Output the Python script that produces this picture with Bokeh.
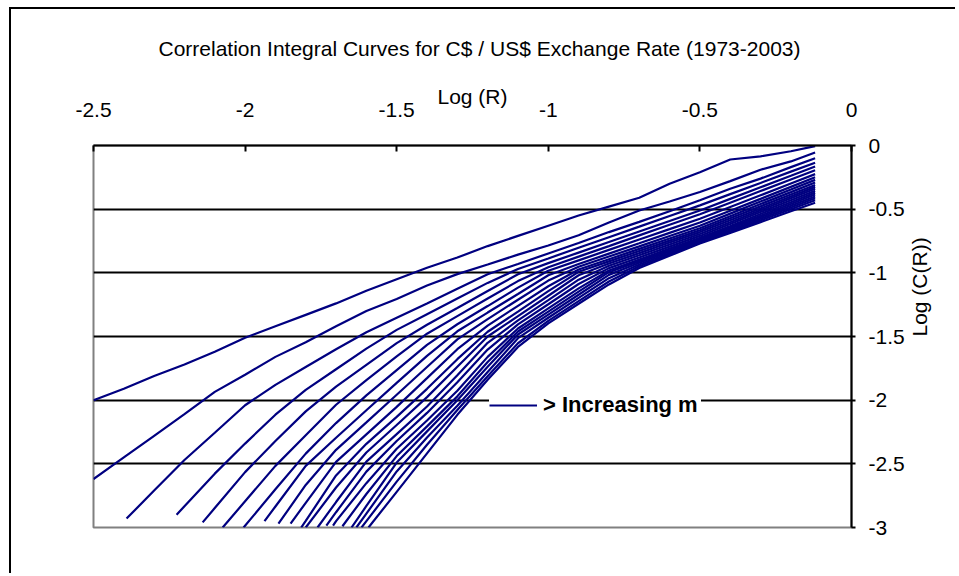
import math
from bokeh.plotting import figure
from bokeh.models import Range1d, FixedTicker, Legend, LegendItem
from bokeh.embed import file_html
from bokeh.resources import INLINE

# Log(R) sample grid shared by all curves
log_r = [-2.5, -2.4, -2.3, -2.2, -2.1, -2.0, -1.9, -1.8, -1.7, -1.6, -1.5, -1.4, -1.3,
         -1.2, -1.1, -1.0, -0.9, -0.8, -0.7, -0.6, -0.5, -0.4, -0.3, -0.2, -0.12]

# First point of each curve (embedding dimension m = 1..20)
start_log_r = [None, None, -2.391, -2.226, -2.14, -2.074, -2.005, -1.936, -1.89, -1.85,
               -1.815, -1.80, -1.761, -1.732, -1.71, -1.679, -1.649, -1.633, -1.616, -1.593]
start_log_c = [None, None, -2.93, -2.90, -2.96, -3.0, -3.0, -2.95, -2.97, -2.97,
               -3.0, -3.0, -3.0, -2.985, -2.985, -2.99, -3.0, -3.0, -3.0, -3.0]

N = None
# Log C(R) for each embedding dimension on the log_r grid
m01 = [-2.00, -1.91, -1.81, -1.72, -1.62, -1.51, -1.42, -1.33, -1.24, -1.14, -1.05, -0.96, -0.88,
       -0.79, -0.71, -0.63, -0.55, -0.48, -0.41, -0.30, -0.21, -0.11, -0.085, -0.045, -0.005]
m02 = [-2.62, -2.45, -2.28, -2.11, -1.935, -1.80, -1.66, -1.545, -1.42, -1.30, -1.205, -1.10, -1.01,
       -0.935, -0.857, -0.785, -0.705, -0.605, -0.51, -0.44, -0.365, -0.28, -0.19, -0.125, -0.055]
m03 = [N, N, -2.71, -2.47, -2.256, -2.04, -1.88, -1.74, -1.60, -1.466, -1.352, -1.24, -1.125,
       -1.011, -0.93, -0.848, -0.766, -0.68, -0.60, -0.516, -0.43, -0.34, -0.26, -0.17, -0.10]
m04 = [N, N, N, -2.833, -2.577, -2.341, -2.114, -1.919, -1.757, -1.595, -1.448, -1.325, -1.202,
       -1.079, -0.970, -0.887, -0.803, -0.720, -0.637, -0.553, -0.47, -0.382, -0.294, -0.205, -0.135]
m05 = [N, N, N, N, -2.847, -2.565, -2.321, -2.088, -1.894, -1.723, -1.552, -1.408, -1.276,
       -1.143, -1.011, -0.924, -0.841, -0.758, -0.675, -0.593, -0.51, -0.419, -0.328, -0.238, -0.165]
m06 = [N, N, N, N, N, -2.794, -2.516, -2.275, -2.036, -1.842, -1.656, -1.478, -1.340,
       -1.202, -1.065, -0.956, -0.873, -0.790, -0.706, -0.623, -0.54, -0.449, -0.358, -0.267, -0.195]
m07 = [N, N, N, N, N, N, -2.70, -2.42, -2.18, -1.962, -1.764, -1.566, -1.404,
       -1.261, -1.116, -0.984, -0.902, -0.820, -0.738, -0.657, -0.575, -0.483, -0.391, -0.299, -0.225]
m08 = [N, N, N, N, N, N, -2.835, -2.516, -2.295, -2.079, -1.864, -1.652, -1.459,
       -1.312, -1.166, -1.019, -0.930, -0.849, -0.768, -0.686, -0.605, -0.512, -0.419, -0.325, -0.25]
m09 = [N, N, N, N, N, N, N, -2.666, -2.39, -2.174, -1.957, -1.74, -1.523,
       -1.363, -1.211, -1.061, -0.952, -0.872, -0.792, -0.711, -0.63, -0.535, -0.44, -0.346, -0.27]
m10 = [N, N, N, N, N, N, N, -2.806, -2.485, -2.269, -2.053, -1.827, -1.60,
       -1.414, -1.259, -1.105, -0.974, -0.893, -0.812, -0.731, -0.65, -0.555, -0.46, -0.366, -0.29]
m11 = [N, N, N, N, N, N, N, -2.948, -2.591, -2.343, -2.131, -1.911, -1.678,
       -1.463, -1.304, -1.144, -0.992, -0.910, -0.828, -0.747, -0.665, -0.572, -0.478, -0.385, -0.31]
m12 = [N, N, N, N, N, N, N, N, -2.686, -2.411, -2.195, -1.976, -1.738,
       -1.50, -1.34, -1.18, -1.019, -0.927, -0.845, -0.762, -0.68, -0.587, -0.494, -0.40, -0.325]
m13 = [N, N, N, N, N, N, N, N, -2.80, -2.483, -2.267, -2.05, -1.804,
       -1.55, -1.373, -1.214, -1.054, -0.945, -0.862, -0.778, -0.695, -0.602, -0.508, -0.415, -0.34]
m14 = [N, N, N, N, N, N, N, N, -2.88, -2.561, -2.321, -2.10, -1.859,
       -1.603, -1.405, -1.247, -1.088, -0.963, -0.879, -0.794, -0.71, -0.617, -0.523, -0.43, -0.355]
m15 = [N, N, N, N, N, N, N, N, -2.95, -2.652, -2.382, -2.16, -1.926,
       -1.66, -1.437, -1.279, -1.122, -0.981, -0.896, -0.81, -0.725, -0.632, -0.538, -0.445, -0.37]
m16 = [N, N, N, N, N, N, N, N, N, -2.737, -2.439, -2.206, -1.97,
       -1.701, -1.461, -1.305, -1.148, -0.995, -0.908, -0.822, -0.735, -0.643, -0.551, -0.459, -0.385]
m17 = [N, N, N, N, N, N, N, N, N, -2.831, -2.49, -2.245, -2.0,
       -1.737, -1.484, -1.328, -1.172, -1.016, -0.921, -0.833, -0.745, -0.654, -0.563, -0.473, -0.40]
m18 = [N, N, N, N, N, N, N, N, N, -2.891, -2.56, -2.294, -2.043,
       -1.779, -1.513, -1.353, -1.197, -1.042, -0.934, -0.844, -0.755, -0.666, -0.576, -0.487, -0.415]
m19 = [N, N, N, N, N, N, N, N, N, -2.95, -2.64, -2.35, -2.077,
       -1.813, -1.553, -1.377, -1.222, -1.068, -0.948, -0.855, -0.762, -0.675, -0.588, -0.50, -0.43]
m20 = [N, N, N, N, N, N, N, N, N, N, -2.72, -2.418, -2.115,
       -1.84, -1.582, -1.397, -1.243, -1.091, -0.962, -0.866, -0.77, -0.686, -0.602, -0.517, -0.45]
curves = [m01, m02, m03, m04, m05, m06, m07, m08, m09, m10,
          m11, m12, m13, m14, m15, m16, m17, m18, m19, m20]

x_ticks = [-2.5, -2, -1.5, -1, -0.5, 0]
x_tick_labels = ["-2.5", "-2", "-1.5", "-1", "-0.5", "0"]
y_ticks = [-3, -2.5, -2, -1.5, -1, -0.5, 0]
y_tick_labels = ["-3", "-2.5", "-2", "-1.5", "-1", "-0.5", "0"]
grid_levels = [-2.5, -2, -1.5, -1, -0.5]

TITLE = "Correlation Integral Curves for C$ / US$ Exchange Rate (1973-2003)"
X_TITLE = "Log (R)"
Y_TITLE = "Log (C(R))"
LEGEND_TEXT = "> Increasing m"

FONT = "Liberation Sans"
NAVY = "#000080"
TEXT_SIZE = "21px"

# chart area offset 11px / 9px into the page; a 2px black shadow up and to the left
# draws the rule along its top and left edges without changing its size
p = figure(width=946, height=566, output_backend="svg", toolbar_location=None,
           x_range=Range1d(-2.5, 0), y_range=Range1d(-3, 0),
           x_axis_location="above", y_axis_location="right",
           min_border_left=82, min_border_right=106, min_border_top=136, min_border_bottom=48,
           styles={"margin-left": "11px", "margin-top": "9px",
                   "background-color": "white",
                   "box-shadow": "-2px -2px 0px 0px black"})
p.background_fill_color = "white"
p.border_fill_color = "white"
p.outline_line_color = "#808080"
p.outline_line_width = 2

p.title.text = TITLE
p.title.align = "left"
p.title.offset = 65
p.title.standoff = 43
p.title.text_font = FONT
p.title.text_font_size = TEXT_SIZE
p.title.text_font_style = "normal"
p.title.text_color = "black"

p.xgrid.visible = False
p.ygrid.ticker = FixedTicker(ticks=grid_levels)
p.ygrid.grid_line_color = "black"
p.ygrid.grid_line_width = 2

xa = p.xaxis[0]
xa.ticker = FixedTicker(ticks=x_ticks)
xa.major_label_overrides = dict(zip(x_ticks, x_tick_labels))
xa.axis_line_color = "black"
xa.axis_line_width = 2
xa.major_tick_in = 6
xa.major_tick_out = 0
xa.major_tick_line_width = 2
xa.minor_tick_line_color = None
xa.major_label_standoff = 29
xa.major_label_text_font = FONT
xa.major_label_text_font_size = TEXT_SIZE
xa.major_label_text_color = "black"
xa.axis_label = X_TITLE
xa.axis_label_standoff = -8
xa.axis_label_text_font = FONT
xa.axis_label_text_font_size = TEXT_SIZE
xa.axis_label_text_font_style = "normal"
xa.axis_label_text_color = "black"

ya = p.yaxis[0]
ya.ticker = FixedTicker(ticks=y_ticks)
ya.major_label_overrides = dict(zip(y_ticks, y_tick_labels))
ya.axis_line_color = "black"
ya.axis_line_width = 2
ya.major_tick_in = 0
ya.major_tick_out = 4
ya.major_tick_line_width = 2
ya.minor_tick_line_color = None
ya.major_label_standoff = 13
ya.major_label_text_font = FONT
ya.major_label_text_font_size = TEXT_SIZE
ya.major_label_text_color = "black"
ya.axis_label = Y_TITLE
ya.axis_label_standoff = 12
ya.axis_label_text_font = FONT
ya.axis_label_text_font_size = TEXT_SIZE
ya.axis_label_text_font_style = "normal"
ya.axis_label_text_color = "black"
if "axis_label_orientation" in ya.properties():
    # read upwards, like a left-hand axis title
    ya.axis_label_orientation = math.pi / 2

renderers = []
for sx, sy, vals in zip(start_log_r, start_log_c, curves):
    xs = [] if sx is None else [sx]
    ys = [] if sy is None else [sy]
    for x, v in zip(log_r, vals):
        if v is not None:
            xs.append(x)
            ys.append(v)
    renderers.append(p.line(xs, ys, line_color=NAVY, line_width=2.2))

legend = Legend(items=[LegendItem(label=LEGEND_TEXT, renderers=[renderers[0]])],
                location=(396, 104), margin=0, padding=11, spacing=0,
                glyph_width=48, glyph_height=36, label_height=36, label_width=158,
                label_standoff=6,
                background_fill_color="white", background_fill_alpha=1.0,
                border_line_color=None,
                label_text_font=FONT, label_text_font_style="bold",
                label_text_font_size="22px", label_text_color="black")
p.add_layout(legend)

open("out.html", "w").write(file_html(p, INLINE))
